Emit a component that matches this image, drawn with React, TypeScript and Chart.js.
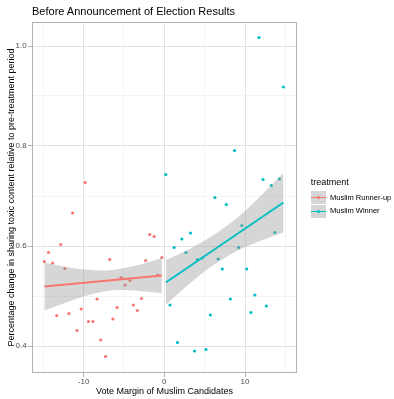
import React, { useEffect, useRef } from 'react';
import { Chart, registerables } from 'chart.js';

Chart.register(...registerables);

// ---------- data ----------
const seriesNames = ['Muslim Runner-up', 'Muslim Winner'];
const seriesColors = ['#F8766D', '#00BFC4'];

const runnerUpX = [-9.81, -11.37, -12.84, -14.36, -14.86, -13.85, -12.33, -6.77, -1.82, -1.26, -2.32, -0.30, -5.36, -4.25, -4.85, -0.81, -8.34, -2.83, -3.84, -5.86, -3.34, -10.31, -13.34, -11.83, -9.40, -8.85, -6.37, -10.82, -7.88, -7.28];
const runnerUpY = [0.727, 0.666, 0.603, 0.587, 0.569, 0.566, 0.555, 0.573, 0.623, 0.619, 0.571, 0.577, 0.537, 0.531, 0.522, 0.542, 0.494, 0.495, 0.482, 0.477, 0.471, 0.474, 0.461, 0.465, 0.449, 0.449, 0.454, 0.431, 0.412, 0.379];

const winnerX = [0.18, 11.73, 14.76, 8.70, 12.23, 13.25, 14.26, 6.27, 7.68, 9.61, 13.70, 3.24, 2.17, 1.21, 2.68, 9.20, 4.10, 4.70, 6.67, 7.18, 10.21, 0.71, 8.19, 11.22, 12.64, 10.72, 5.71, 1.62, 3.74, 5.16];
const winnerY = [0.743, 1.017, 0.918, 0.791, 0.733, 0.721, 0.734, 0.697, 0.683, 0.641, 0.627, 0.626, 0.614, 0.597, 0.587, 0.597, 0.573, 0.576, 0.574, 0.554, 0.554, 0.482, 0.494, 0.502, 0.480, 0.467, 0.462, 0.407, 0.390, 0.393];

// fitted lines (lm) and 95% confidence bands
const runnerUpFitX = [-14.86, -0.30];
const runnerUpFitY = [0.519, 0.541];
const runnerUpBandX = [-14.86, -12.5, -10, -7.5, -5, -2.5, -0.30];
const runnerUpBandLo = [0.471, 0.485, 0.499, 0.509, 0.512, 0.509, 0.506];
const runnerUpBandHi = [0.567, 0.559, 0.553, 0.551, 0.556, 0.565, 0.576];

const winnerFitX = [0.18, 14.76];
const winnerFitY = [0.527, 0.687];
const winnerBandX = [0.18, 3, 6, 9, 12, 14.76];
const winnerBandLo = [0.482, 0.523, 0.561, 0.590, 0.611, 0.627];
const winnerBandHi = [0.572, 0.593, 0.621, 0.656, 0.701, 0.747];

const xTicks = [-15, -10, -5, 0, 5, 10, 15];
const xLabeledTicks = [-10, 0, 10];
const yTicks = [0.4, 0.5, 0.6, 0.7, 0.8, 0.9, 1.0];
const yLabeledTicks = [0.4, 0.6, 0.8, 1.0];

const titleText = 'Before Announcement of Election Results';
const xTitle = 'Vote Margin of Muslim Candidates';
const yTitle = 'Percentage change in sharing toxic content relative to pre-treatment period';
const legendTitle = 'treatment';

// ---------- helpers ----------
const zip = (xs: number[], ys: number[]) => xs.map((x, i) => ({ x, y: ys[i] }));
const near = (v: number, list: number[]) => list.some((t) => Math.abs(t - v) < 1e-6);

const FONT = '"Liberation Sans", Arial, Helvetica, sans-serif';
const BAND_FILL = 'rgba(153,153,153,0.4)';
const GRID_MAJOR = '#e2e2e2';
const GRID_MINOR = '#efefef';
const BORDER = '#b3b3b3';

const panelBorder = {
  id: 'panelBorder',
  afterDraw(chart: any) {
    const { ctx, chartArea } = chart;
    const { left, top, right, bottom } = chartArea;
    ctx.save();
    ctx.strokeStyle = BORDER;
    ctx.lineWidth = 1;
    ctx.strokeRect(left + 0.5, top + 0.5, right - left - 1, bottom - top - 1);
    ctx.restore();
  },
};

function bandDataset(xs: number[], ys: number[], fillTarget: number | false) {
  return {
    type: 'line' as const,
    data: zip(xs, ys),
    borderWidth: 0,
    borderColor: 'rgba(0,0,0,0)',
    backgroundColor: BAND_FILL,
    pointRadius: 0,
    fill: fillTarget,
    cubicInterpolationMode: 'monotone' as const,
    order: 2,
  };
}

function pointDataset(xs: number[], ys: number[], color: string) {
  return {
    type: 'line' as const,
    data: zip(xs, ys),
    showLine: false,
    pointRadius: 1.6,
    pointBorderWidth: 0,
    pointBackgroundColor: color,
    borderColor: color,
    backgroundColor: color,
    fill: false,
    order: 3,
  };
}

function fitDataset(xs: number[], ys: number[], color: string) {
  return {
    type: 'line' as const,
    data: zip(xs, ys),
    borderColor: color,
    borderWidth: 1.9,
    pointRadius: 0,
    fill: false,
    order: 1,
  };
}

export default function App() {
  const canvasRef = useRef<HTMLCanvasElement | null>(null);

  useEffect(() => {
    if (!canvasRef.current) return;
    Chart.defaults.font.family = FONT;
    const chart = new Chart(canvasRef.current, {
      type: 'line',
      data: {
        datasets: [
          bandDataset(runnerUpBandX, runnerUpBandHi, 1),
          bandDataset(runnerUpBandX, runnerUpBandLo, false),
          bandDataset(winnerBandX, winnerBandHi, 3),
          bandDataset(winnerBandX, winnerBandLo, false),
          pointDataset(runnerUpX, runnerUpY, seriesColors[0]),
          pointDataset(winnerX, winnerY, seriesColors[1]),
          fitDataset(runnerUpFitX, runnerUpFitY, seriesColors[0]),
          fitDataset(winnerFitX, winnerFitY, seriesColors[1]),
        ] as any,
      },
      options: {
        responsive: false,
        animation: false,
        devicePixelRatio: 1,
        layout: { padding: { top: 22, right: 97, bottom: 0, left: 0 } },
        plugins: {
          legend: { display: false },
          title: { display: false },
          tooltip: { enabled: false },
        },
        scales: {
          x: {
            type: 'linear',
            position: 'bottom',
            min: -16.4,
            max: 16.44,
            afterBuildTicks: (scale: any) => {
              scale.ticks = xTicks.map((v) => ({ value: v }));
            },
            afterFit: (scale: any) => {
              scale.height = 26;
            },
            ticks: {
              autoSkip: false,
              maxRotation: 0,
              padding: 0,
              color: '#4d4d4d',
              font: { size: 8 },
              callback: (v: any) => (near(Number(v), xLabeledTicks) ? String(v) : ''),
            },
            grid: {
              color: (c: any) => (near(c.tick?.value, xLabeledTicks) ? GRID_MAJOR : GRID_MINOR),
              lineWidth: (c: any) => (near(c.tick?.value, xLabeledTicks) ? 1 : 0.7),
              tickColor: (c: any) => (near(c.tick?.value, xLabeledTicks) ? BORDER : 'rgba(0,0,0,0)'),
              tickLength: 4,
            },
            border: { display: false },
            title: {
              display: true,
              text: xTitle,
              color: '#000',
              font: { size: 9 },
              padding: { top: 0, bottom: 1.6 },
            },
          },
          y: {
            type: 'linear',
            min: 0.346,
            max: 1.048,
            afterBuildTicks: (scale: any) => {
              scale.ticks = yTicks.map((v) => ({ value: v }));
            },
            afterFit: (scale: any) => {
              scale.width = 32;
            },
            ticks: {
              autoSkip: false,
              padding: 1.3,
              color: '#4d4d4d',
              font: { size: 8 },
              callback: (v: any) => (near(Number(v), yLabeledTicks) ? Number(v).toFixed(1) : ''),
            },
            grid: {
              color: (c: any) => (near(c.tick?.value, yLabeledTicks) ? GRID_MAJOR : GRID_MINOR),
              lineWidth: (c: any) => (near(c.tick?.value, yLabeledTicks) ? 1 : 0.7),
              tickColor: (c: any) => (near(c.tick?.value, yLabeledTicks) ? BORDER : 'rgba(0,0,0,0)'),
              tickLength: 4,
            },
            border: { display: false },
            title: {
              display: true,
              text: yTitle,
              color: '#000',
              font: { size: 9 },
              padding: { top: 5.9, bottom: 0 },
            },
          },
        },
      },
      plugins: [panelBorder],
    });
    return () => chart.destroy();
  }, []);

  const legendKey = (color: string, top: number, label: string) => (
    <React.Fragment key={label}>
      <div
        style={{
          position: 'absolute',
          left: 311,
          top,
          width: 14.5,
          height: 13.8,
          background: BAND_FILL,
        }}
      >
        <div
          style={{
            position: 'absolute',
            left: 0,
            right: 0,
            top: 6,
            height: 1.8,
            background: color,
          }}
        />
        <div
          style={{
            position: 'absolute',
            left: 5.6,
            top: 5.2,
            width: 3.4,
            height: 3.4,
            borderRadius: '50%',
            background: color,
          }}
        />
      </div>
      <div
        style={{
          position: 'absolute',
          left: 330,
          top: top + 1.9,
          height: 10,
          lineHeight: '10px',
          fontSize: 7.5,
          color: '#000',
          whiteSpace: 'nowrap',
        }}
      >
        {label}
      </div>
    </React.Fragment>
  );

  return (
    <div
      style={{
        position: 'fixed',
        left: 0,
        top: 0,
        width: 394,
        height: 399,
        background: '#fff',
        fontFamily: FONT,
      }}
    >
      <canvas ref={canvasRef} width={394} height={399} style={{ display: 'block' }} />
      <div
        style={{
          position: 'absolute',
          left: 32,
          top: 6,
          fontSize: 11,
          lineHeight: '11px',
          color: '#000',
          whiteSpace: 'nowrap',
        }}
      >
        {titleText}
      </div>
      <div
        style={{
          position: 'absolute',
          left: 310.7,
          top: 177.3,
          fontSize: 9,
          lineHeight: '10px',
          color: '#000',
          whiteSpace: 'nowrap',
        }}
      >
        {legendTitle}
      </div>
      {legendKey(seriesColors[0], 190.7, seriesNames[0])}
      {legendKey(seriesColors[1], 204.5, seriesNames[1])}
    </div>
  );
}
